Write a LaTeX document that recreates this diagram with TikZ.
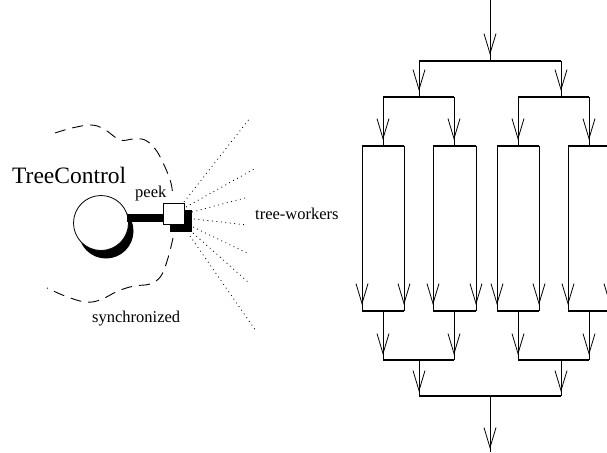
\documentclass[tikz,border=0pt]{standalone}
\usepackage{fontspec}
\setmainfont{Liberation Serif}
\usetikzlibrary{arrows.meta}

\tikzset{
  flow/.style={line width=0.8pt},
  bar/.style={line width=1.6pt, line cap=butt},
  tipped/.style={flow, -{Straight Barb[length=20pt,width=12pt]}, shorten >=#1},
  tipped/.default=6pt,
  label/.style={inner sep=0pt, anchor=base west, font=\fontsize{16.5}{18}\selectfont},
  bigtitle/.style={inner sep=0pt, anchor=base west, font=\fontsize{23.5}{26}\selectfont},
  fence/.style={line width=0.9pt, dash pattern=on 11pt off 7pt},
  reach/.style={line width=0.8pt, dash pattern=on 0.9pt off 3.6pt},
}

% draw a plain segment and an arrowhead just short of its end
\newcommand{\flowedge}[3][6pt]{%
  \draw[flow] (#2) -- (#3);
  \draw[tipped=#1] (#2) -- (#3);
}

\begin{document}
\begin{tikzpicture}[x=1pt, y=-1pt]
\useasboundingbox (0,0) rectangle (607,452);
\clip (0,0) rectangle (607,452);

% ---------------- TreeControl object ----------------
\fill[black] (106,231) circle (27.5);
\node[circle, draw, fill=white, line width=0.8pt, minimum size=55pt, inner sep=0pt] (tc) at (101,223) {};
\coordinate (stem) at (127,217.5);
\coordinate (boxl) at (164,217.5);
\draw[line width=8pt] (stem) -- (boxl);
\fill[black] (170,210) rectangle (192,232);
\node[draw, fill=white, line width=0.8pt, minimum size=21pt, inner sep=0pt] (peekbox) at (173.5,214) {};

\node[bigtitle] (title) at (12,183) {TreeControl};
\node[label] (peek) at (135,197) {peek};
\node[label] (workers) at (255,219) {tree-workers};
\node[label] (sync) at (92,322) {synchronized};

% synchronized boundary, interrupted by the peek box
\draw[fence] plot[smooth, tension=0.6] coordinates
  {(55,133) (72,128) (91,125) (104,129) (120,140) (133,139) (145,140) (156,150) (165,167) (171,183) (173,197)};
\draw[fence] plot[smooth, tension=0.6] coordinates
  {(173,238) (168,258) (161,276) (150,284) (134,286) (118,291) (100,300) (85,302) (65,296) (47,288)};

% rays toward the tree workers
\foreach \sx/\sy/\ex/\ey/\n in {184/202/250/118/1, 186/207/256/168/2,
                                192/212/245/198/3, 194/219/247/225/4,
                                193/227/247/253/5, 193/233/248/282/6,
                                190/236/256/331/7} {
  \coordinate (rs\n) at (\sx,\sy);
  \coordinate (re\n) at (\ex,\ey);
  \draw[reach] (rs\n) -- (re\n);
}

% ---------------- fork / join tree ----------------
\coordinate (in) at (490,0);
\coordinate (f1) at (490,61);
\coordinate (f1a) at (419,61);   \coordinate (f1b) at (561,61);
\coordinate (f2a) at (419,97);   \coordinate (f2b) at (561,97);
\coordinate (f2aa) at (383,97);  \coordinate (f2ab) at (454,97);
\coordinate (f2ba) at (518,97);  \coordinate (f2bb) at (589,97);
\foreach \x/\n in {383/a, 454/b, 518/c, 589/d} {
  \coordinate (u\n) at (\x,97);
  \coordinate (t\n) at (\x,146);
  \coordinate (j\n) at (\x,311);
  \coordinate (k\n) at (\x,360);
}
\foreach \l/\r/\n in {362/404/1, 433/476/2, 497/539/3, 568/610/4} {
  \coordinate (cl\n) at (\l,146);  \coordinate (cr\n) at (\r,146);
  \coordinate (dl\n) at (\l,311);  \coordinate (dr\n) at (\r,311);
}
\coordinate (g1) at (419,360);  \coordinate (g2) at (561,360);
\coordinate (h1) at (419,396);  \coordinate (h2) at (561,396);
\coordinate (hm) at (490,396);
\coordinate (out) at (490,452);

% bars
\draw[bar] (f1a) -- (f1b);
\draw[bar] (f2aa) -- (f2ab);
\draw[bar] (f2ba) -- (f2bb);
\foreach \n in {1,2,3,4} {
  \draw[bar] (cl\n) -- (cr\n);
  \draw[bar] (dl\n) -- (dr\n);
}
\draw[bar] (ka) -- (kb);
\draw[bar] (kc) -- (kd);
\draw[bar] (h1) -- (h2);

% arrows
\flowedge{in}{f1}
\flowedge{f1a}{f2a}
\flowedge{f1b}{f2b}
\foreach \n in {a,b,c,d} { \flowedge{u\n}{t\n} }
\foreach \n in {1,2,3,4} {
  \flowedge{cl\n}{dl\n}
  \flowedge{cr\n}{dr\n}
}
\foreach \n in {a,b,c,d} { \flowedge[5pt]{j\n}{k\n} }
\flowedge[4pt]{g1}{h1}
\flowedge[4pt]{g2}{h2}
\flowedge[3pt]{hm}{out}
\end{tikzpicture}
\end{document}
